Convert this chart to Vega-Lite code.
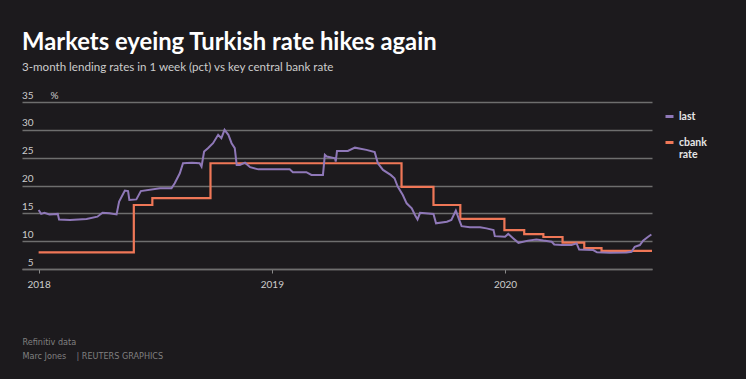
{
  "$schema": "https://vega.github.io/schema/vega-lite/v6.json",
  "width": 630,
  "height": 167,
  "autosize": "none",
  "padding": {"left": 22, "top": 102, "right": 94, "bottom": 110},
  "background": "#1c1a1d",
  "title": {
    "text": "Markets eyeing Turkish rate hikes again",
    "subtitle": "3-month lending rates in 1 week (pct) vs key central bank rate",
    "anchor": "start",
    "frame": "group",
    "font": "Lato",
    "fontSize": 23.8,
    "fontWeight": "bold",
    "color": "#ffffff",
    "subtitleFont": "Lato",
    "subtitleFontSize": 11.6,
    "subtitleColor": "#cccccc",
    "subtitlePadding": 8,
    "offset": 16
  },
  "config": {
    "view": {"stroke": null},
    "axis": {"labelFont": "Lato", "titleFont": "Lato"}
  },
  "data": {
    "values": [
      {"date": "2018-01-01", "series": "cbank rate", "value": 8.0},
      {"date": "2018-05-30", "series": "cbank rate", "value": 16.5},
      {"date": "2018-06-28", "series": "cbank rate", "value": 17.75},
      {"date": "2018-09-27", "series": "cbank rate", "value": 24.0},
      {"date": "2019-07-23", "series": "cbank rate", "value": 19.75},
      {"date": "2019-09-11", "series": "cbank rate", "value": 16.5},
      {"date": "2019-10-23", "series": "cbank rate", "value": 14.0},
      {"date": "2019-12-31", "series": "cbank rate", "value": 12.0},
      {"date": "2020-01-31", "series": "cbank rate", "value": 11.25},
      {"date": "2020-03-01", "series": "cbank rate", "value": 10.75},
      {"date": "2020-03-31", "series": "cbank rate", "value": 9.75},
      {"date": "2020-05-04", "series": "cbank rate", "value": 8.75},
      {"date": "2020-05-31", "series": "cbank rate", "value": 8.25},
      {"date": "2020-08-18", "series": "cbank rate", "value": 8.25},

      {"date": "2018-01-01", "series": "last", "value": 15.6},
      {"date": "2018-01-05", "series": "last", "value": 14.9},
      {"date": "2018-01-10", "series": "last", "value": 15.1},
      {"date": "2018-01-18", "series": "last", "value": 14.8},
      {"date": "2018-01-31", "series": "last", "value": 14.9},
      {"date": "2018-02-02", "series": "last", "value": 13.9},
      {"date": "2018-02-19", "series": "last", "value": 13.8},
      {"date": "2018-03-17", "series": "last", "value": 14.0},
      {"date": "2018-04-03", "series": "last", "value": 14.4},
      {"date": "2018-04-11", "series": "last", "value": 15.1},
      {"date": "2018-04-22", "series": "last", "value": 15.0},
      {"date": "2018-05-03", "series": "last", "value": 14.8},
      {"date": "2018-05-07", "series": "last", "value": 17.1},
      {"date": "2018-05-16", "series": "last", "value": 19.1},
      {"date": "2018-05-21", "series": "last", "value": 19.0},
      {"date": "2018-05-23", "series": "last", "value": 17.4},
      {"date": "2018-06-03", "series": "last", "value": 17.5},
      {"date": "2018-06-10", "series": "last", "value": 19.0},
      {"date": "2018-07-10", "series": "last", "value": 19.5},
      {"date": "2018-07-28", "series": "last", "value": 19.5},
      {"date": "2018-08-02", "series": "last", "value": 20.4},
      {"date": "2018-08-10", "series": "last", "value": 22.2},
      {"date": "2018-08-15", "series": "last", "value": 24.0},
      {"date": "2018-08-29", "series": "last", "value": 24.1},
      {"date": "2018-09-10", "series": "last", "value": 24.0},
      {"date": "2018-09-13", "series": "last", "value": 23.4},
      {"date": "2018-09-17", "series": "last", "value": 26.1},
      {"date": "2018-09-23", "series": "last", "value": 26.7},
      {"date": "2018-10-01", "series": "last", "value": 27.6},
      {"date": "2018-10-09", "series": "last", "value": 29.1},
      {"date": "2018-10-14", "series": "last", "value": 28.5},
      {"date": "2018-10-19", "series": "last", "value": 30.0},
      {"date": "2018-10-25", "series": "last", "value": 29.1},
      {"date": "2018-10-30", "series": "last", "value": 27.6},
      {"date": "2018-11-04", "series": "last", "value": 26.7},
      {"date": "2018-11-07", "series": "last", "value": 23.7},
      {"date": "2018-11-12", "series": "last", "value": 23.7},
      {"date": "2018-11-20", "series": "last", "value": 24.1},
      {"date": "2018-11-28", "series": "last", "value": 23.3},
      {"date": "2018-12-11", "series": "last", "value": 22.9},
      {"date": "2018-12-29", "series": "last", "value": 22.9},
      {"date": "2019-01-14", "series": "last", "value": 22.9},
      {"date": "2019-01-29", "series": "last", "value": 22.9},
      {"date": "2019-02-03", "series": "last", "value": 22.4},
      {"date": "2019-02-24", "series": "last", "value": 22.4},
      {"date": "2019-03-04", "series": "last", "value": 21.9},
      {"date": "2019-03-22", "series": "last", "value": 21.9},
      {"date": "2019-03-25", "series": "last", "value": 25.5},
      {"date": "2019-03-28", "series": "last", "value": 25.2},
      {"date": "2019-04-10", "series": "last", "value": 24.9},
      {"date": "2019-04-11", "series": "last", "value": 24.3},
      {"date": "2019-04-13", "series": "last", "value": 26.2},
      {"date": "2019-04-30", "series": "last", "value": 26.2},
      {"date": "2019-05-11", "series": "last", "value": 26.8},
      {"date": "2019-05-29", "series": "last", "value": 26.4},
      {"date": "2019-06-11", "series": "last", "value": 26.0},
      {"date": "2019-06-16", "series": "last", "value": 24.0},
      {"date": "2019-06-24", "series": "last", "value": 22.8},
      {"date": "2019-07-06", "series": "last", "value": 21.9},
      {"date": "2019-07-12", "series": "last", "value": 21.3},
      {"date": "2019-07-17", "series": "last", "value": 19.8},
      {"date": "2019-07-25", "series": "last", "value": 18.3},
      {"date": "2019-07-31", "series": "last", "value": 16.8},
      {"date": "2019-08-08", "series": "last", "value": 15.9},
      {"date": "2019-08-13", "series": "last", "value": 14.7},
      {"date": "2019-08-17", "series": "last", "value": 13.9},
      {"date": "2019-08-21", "series": "last", "value": 15.1},
      {"date": "2019-09-11", "series": "last", "value": 14.9},
      {"date": "2019-09-15", "series": "last", "value": 13.2},
      {"date": "2019-10-02", "series": "last", "value": 13.5},
      {"date": "2019-10-09", "series": "last", "value": 13.8},
      {"date": "2019-10-16", "series": "last", "value": 15.5},
      {"date": "2019-10-21", "series": "last", "value": 13.9},
      {"date": "2019-10-25", "series": "last", "value": 12.7},
      {"date": "2019-11-07", "series": "last", "value": 12.5},
      {"date": "2019-11-23", "series": "last", "value": 12.5},
      {"date": "2019-12-03", "series": "last", "value": 12.3},
      {"date": "2019-12-14", "series": "last", "value": 12.0},
      {"date": "2019-12-16", "series": "last", "value": 10.9},
      {"date": "2020-01-01", "series": "last", "value": 10.8},
      {"date": "2020-01-06", "series": "last", "value": 11.3},
      {"date": "2020-01-14", "series": "last", "value": 10.5},
      {"date": "2020-01-22", "series": "last", "value": 9.7},
      {"date": "2020-02-06", "series": "last", "value": 10.1},
      {"date": "2020-02-19", "series": "last", "value": 10.3},
      {"date": "2020-03-01", "series": "last", "value": 10.1},
      {"date": "2020-03-14", "series": "last", "value": 9.9},
      {"date": "2020-03-18", "series": "last", "value": 9.4},
      {"date": "2020-03-30", "series": "last", "value": 9.3},
      {"date": "2020-04-14", "series": "last", "value": 9.3},
      {"date": "2020-04-22", "series": "last", "value": 9.6},
      {"date": "2020-04-26", "series": "last", "value": 8.5},
      {"date": "2020-05-18", "series": "last", "value": 8.4},
      {"date": "2020-05-24", "series": "last", "value": 8.0},
      {"date": "2020-06-13", "series": "last", "value": 7.9},
      {"date": "2020-07-09", "series": "last", "value": 7.95},
      {"date": "2020-07-17", "series": "last", "value": 8.1},
      {"date": "2020-07-22", "series": "last", "value": 9.0},
      {"date": "2020-07-30", "series": "last", "value": 9.3},
      {"date": "2020-08-04", "series": "last", "value": 10.1},
      {"date": "2020-08-12", "series": "last", "value": 10.8},
      {"date": "2020-08-17", "series": "last", "value": 11.2}
    ]
  },
  "encoding": {
    "x": {
      "field": "date",
      "type": "temporal",
      "scale": {
        "type": "utc",
        "domain": [
          {"year": 2017, "month": 12, "date": 6, "utc": true},
          {"year": 2020, "month": 8, "date": 18, "utc": true}
        ]
      },
      "axis": {
        "values": [
          {"year": 2018, "month": 1, "date": 1, "utc": true},
          {"year": 2019, "month": 1, "date": 1, "utc": true},
          {"year": 2020, "month": 1, "date": 1, "utc": true}
        ],
        "format": "%Y",
        "formatType": "utc",
        "grid": false,
        "domainColor": "#6e6e6e",
        "domainWidth": 1.5,
        "tickColor": "#8a8a8a",
        "tickSize": 4,
        "labelColor": "#cccccc",
        "labelFontSize": 10,
        "labelPadding": 6,
        "title": ["Refinitiv data", "Marc Jones\u00a0\u00a0\u00a0\u00a0| REUTERS GRAPHICS"],
        "titleFont": "'Liberation Sans Narrow', 'DejaVu Sans Condensed', Lato",
        "titleX": 0,
        "titleY": 68,
        "titleAlign": "left",
        "titleAnchor": "start",
        "titleBaseline": "top",
        "titleColor": "#808080",
        "titleFontSize": 9,
        "titleFontWeight": "normal",
        "titleLineHeight": 14.5
      }
    },
    "y": {
      "field": "value",
      "type": "quantitative",
      "scale": {"domain": [5, 35], "nice": false, "zero": false},
      "axis": {
        "values": [5, 10, 15, 20, 25, 30, 35],
        "grid": true,
        "gridColor": "#6e6e6e",
        "gridWidth": 1.5,
        "ticks": false,
        "domain": false,
        "labelAlign": "right",
        "labelBaseline": "alphabetic",
        "labelPadding": -11,
        "labelOffset": -4,
        "labelColor": "#cccccc",
        "labelFontSize": 10,
        "title": "%",
        "titleAngle": 0,
        "titleX": 28,
        "titleY": -4,
        "titleAlign": "left",
        "titleBaseline": "alphabetic",
        "titleColor": "#cccccc",
        "titleFontSize": 10,
        "titleFontWeight": "normal"
      }
    },
    "color": {
      "field": "series",
      "type": "nominal",
      "scale": {"domain": ["last", "cbank rate"], "range": ["#8f78b8", "#ef7757"]},
      "legend": {
        "orient": "none",
        "legendX": 642,
        "legendY": 9,
        "title": null,
        "symbolType": "stroke",
        "symbolStrokeWidth": 3,
        "symbolSize": 64,
        "labelFont": "Lato",
        "labelFontSize": 10.5,
        "labelFontWeight": "bold",
        "labelColor": "#e6e6e6",
        "labelOffset": 4,
        "rowPadding": 13,
        "labelExpr": "datum.label == 'cbank rate' ? ['cbank', 'rate'] : datum.label",
        "encode": {"labels": {"update": {"lineHeight": {"value": 12}}}}
      }
    }
  },
  "layer": [
    {
      "transform": [{"filter": "datum.series == 'cbank rate'"}],
      "mark": {"type": "line", "interpolate": "step-after", "strokeWidth": 2.2}
    },
    {
      "transform": [{"filter": "datum.series == 'last'"}],
      "mark": {"type": "line", "strokeWidth": 2}
    }
  ]
}
